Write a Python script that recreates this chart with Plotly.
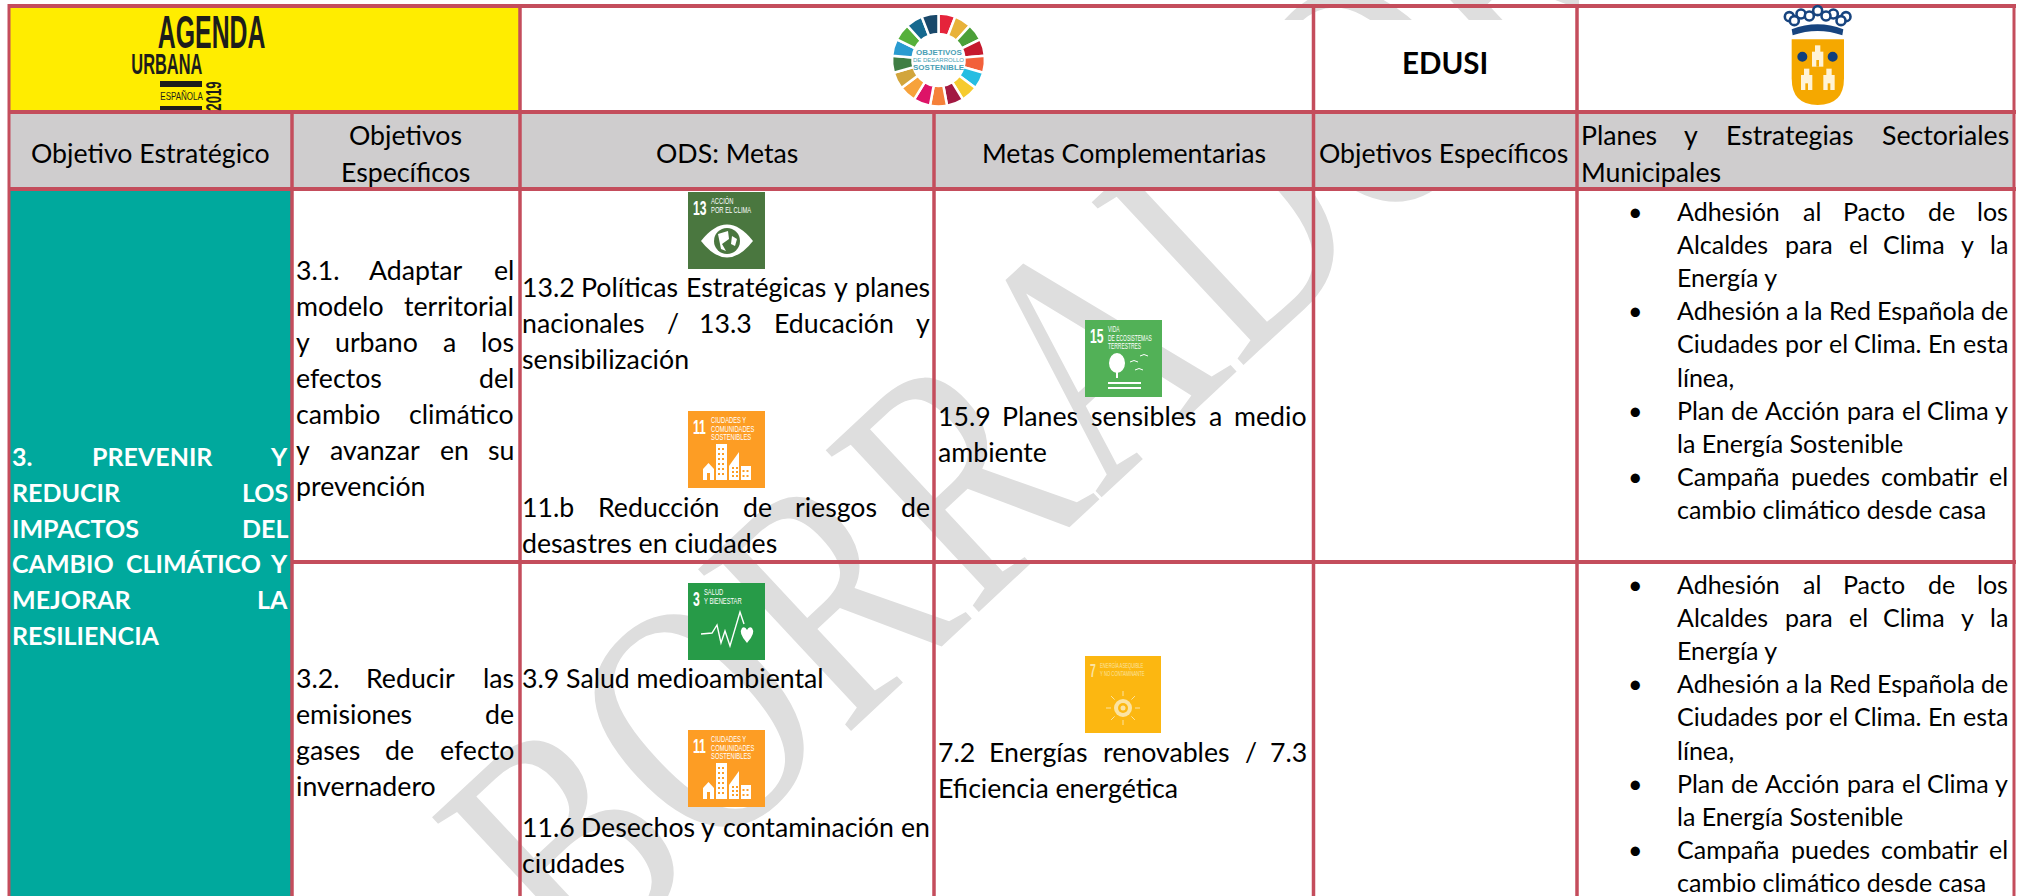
import json
import unicodedata
import plotly.graph_objects as go

# ---------- content ----------
HEADERS = ["Objetivo Estratégico", "ODS: Metas", "Metas Complementarias", "Objetivos Específicos"]
HEADER_OE = ["Objetivos", "Específicos"]
HEADER_PLANES = [["Planes y Estrategias Sectoriales", "Municipales"]]
EDUSI = "EDUSI"
WATERMARK = "BORRADOR"
OBJ_ESTRATEGICO = [["3. PREVENIR Y", "REDUCIR LOS", "IMPACTOS DEL", "CAMBIO CLIMÁTICO Y", "MEJORAR LA", "RESILIENCIA"]]
OE_31 = [["3.1. Adaptar el", "modelo territorial", "y urbano a los", "efectos del", "cambio climático", "y avanzar en su", "prevención"]]
OE_32 = [["3.2. Reducir las", "emisiones de", "gases de efecto", "invernadero"]]
ODS_132 = [["13.2 Políticas Estratégicas y planes", "nacionales / 13.3 Educación y", "sensibilización"]]
ODS_11B = [["11.b Reducción de riesgos de", "desastres en ciudades"]]
ODS_39 = [["3.9 Salud medioambiental"]]
ODS_116 = [["11.6 Desechos y contaminación en", "ciudades"]]
COMP_159 = [["15.9 Planes sensibles a medio", "ambiente"]]
COMP_72 = [["7.2 Energías renovables / 7.3", "Eficiencia energética"]]
PLANES = [
    ["Adhesión al Pacto de los", "Alcaldes para el Clima y la", "Energía y"],
    ["Adhesión a la Red Española de", "Ciudades por el Clima. En esta", "línea,"],
    ["Plan de Acción para el Clima y", "la Energía Sostenible"],
    ["Campaña puedes combatir el", "cambio climático desde casa"],
]
WHEEL_VALUES = [1] * 17
WHEEL_COLORS = ["#E5243B", "#E8B23A", "#4C9F38", "#C5192D", "#F2603A", "#26BDE2", "#F6CB2F", "#A21942", "#F5813A",
                "#DD1367", "#F7A23B", "#D2A53C", "#3F7E44", "#2A9BD0", "#56B03B", "#15698F", "#19486A"]
WHEEL_TEXT = ["OBJETIVOS", "DE DESARROLLO", "SOSTENIBLE"]

LINE = "#C44D5C"
TEAL = "#00A99D"
GRAY = "#CFCDCE"
YELLOW = "#FFED00"
FONT = "Lato"
NARROW = "Liberation Sans"
FS = 26.7
FS_LIST = 25

# approximate Lato advance widths, used only to space justified words
_W = dict(a=.509, b=.566, c=.473, d=.566, e=.527, f=.331, g=.511, h=.557, i=.243, j=.243, k=.514, l=.243, m=.825,
          n=.557, o=.574, p=.566, q=.566, r=.377, s=.432, t=.358, u=.557, v=.516, w=.786, x=.498, y=.516, z=.463,
          A=.68, B=.64, C=.65, D=.75, E=.56, F=.545, G=.715, H=.75, I=.27, J=.41, K=.65, L=.49, M=.92, N=.75, O=.8,
          P=.6, Q=.8, R=.62, S=.53, T=.58, U=.73, V=.68, W=1.02, X=.64, Y=.62, Z=.61)
_W.update({".": .21, ",": .21, "/": .4, ":": .24})


def tw(s, size, bold=False):
    t = 0
    for ch in unicodedata.normalize("NFD", s):
        if unicodedata.combining(ch):
            continue
        t += .58 if ch.isdigit() else _W.get(ch, .5)
    return t * size * (1.04 if bold else 1)


ann = []
shapes = []
squeeze = []


def text(x, y, s, size=FS, color="black", anchor="center", family=FONT, bold=False, angle=0, sx=None):
    if sx is not None:
        squeeze.append([len(ann), sx, anchor])
    ann.append(dict(x=x, y=y, text=f"<b>{s}</b>" if bold else s, showarrow=False, xanchor=anchor, yanchor="middle",
                    font=dict(family=family, size=size, color=color), textangle=angle, xref="x", yref="y",
                    borderpad=0, borderwidth=0))


def line_out(s, x0, x1, y, justify, size=FS, color="black", bold=False):
    words = s.split()
    if not justify or len(words) == 1:
        text(x0, y, s, size, color, "left", bold=bold)
        return
    ws = [tw(w, size, bold) for w in words]
    gap = (x1 - x0 - sum(ws)) / (len(words) - 1)
    pos = x0
    for i, (w, wd) in enumerate(zip(words, ws)):
        if i == 0:
            text(x0, y, w, size, color, "left", bold=bold)
        elif i == len(words) - 1:
            text(x1, y, w, size, color, "right", bold=bold)
        else:
            text(pos + wd / 2, y, w, size, color, "center", bold=bold)
        pos += wd + gap


def block(paras, x0, x1, y, step, size=FS, color="black", bold=False, bullet=None):
    for para in paras:
        if bullet is not None:
            text(bullet, y, "•", size, "black")
        for i, s in enumerate(para):
            line_out(s, x0, x1, y, i < len(para) - 1, size, color, bold)
            y += step


def rect(x0, y0, x1, y1, fill, layer="above"):
    shapes.append(dict(type="rect", x0=x0, y0=y0, x1=x1, y1=y1, fillcolor=fill, line_width=0, layer=layer,
                       xref="x", yref="y"))


def seg(x0, y0, x1, y1, w=4, color=LINE):
    shapes.append(dict(type="line", x0=x0, y0=y0, x1=x1, y1=y1, line=dict(color=color, width=w), layer="above",
                       xref="x", yref="y"))


def path(d, fill=None, stroke=None, w=1):
    shapes.append(dict(type="path", path=d, fillcolor=fill or "rgba(0,0,0,0)",
                       line=dict(color=stroke or "rgba(0,0,0,0)", width=w if stroke else 0),
                       layer="above", xref="x", yref="y"))


def circ(cx, cy, rx, ry, fill, stroke=None, w=1):
    shapes.append(dict(type="circle", x0=cx - rx, x1=cx + rx, y0=cy - ry, y1=cy + ry, fillcolor=fill,
                       line=dict(color=stroke or fill, width=w if stroke else 0), layer="above", xref="x", yref="y"))


# watermark first: moved beneath the cell fills after drawing
text(1032, 405, WATERMARK, 340, "#DEDEDE", family="Liberation Serif", angle=-43, sx=.77)

# fills
rect(9, 6, 520, 112, YELLOW)
rect(522, 20, 2014, 112, "white", "below")
rect(1579, 0, 2024, 112, "white", "below")
rect(9, 112, 2014, 189, GRAY)
rect(9, 189, 292, 896, TEAL)

# rules
seg(8, 6, 2016, 6)
seg(8, 112, 2016, 112)
seg(8, 189, 2016, 189)
seg(292, 562, 2016, 562)
seg(9, 4, 9, 896, 3)
seg(292, 112, 292, 896, 3.5)
seg(520, 4, 520, 896, 3.5)
seg(934, 112, 934, 896, 3.5)
seg(1313.5, 4, 1313.5, 896, 3.5)
seg(1577, 4, 1577, 896, 3.5)
seg(2014, 4, 2014, 896, 3)

# Agenda Urbana logo
INK = "#1D1D1B"
text(211, 31.5, "AGENDA", 46, INK, family=NARROW, bold=True, sx=.54)
text(166.5, 63.5, "URBANA", 29, INK, family=NARROW, bold=True, sx=.565)
rect(160, 81, 202, 87, INK)
rect(160, 106, 202, 110, INK)
text(181, 96, "ESPAÑOLA", 10, INK, family=NARROW, sx=.8)
text(214, 96.5, "2019", 22, INK, family=NARROW, bold=True, angle=-90, sx=.6)

# wheel caption
for i, s in enumerate(WHEEL_TEXT):
    text(938.5, 52 + i * 7.5, s, 8 if i != 1 else 6, "#4A9FB5", family=NARROW, bold=i != 1)

# EDUSI
text(1445, 62, EDUSI, 29.5, "black", family="Lato", bold=True)

# crest
X, Y = 1770, 0
def cx(v): return X + v / 3
def cy(v): return Y + v / 3
path(f"M{cx(65)},{cy(118)} L{cx(222)},{cy(118)} L{cx(222)},{cy(235)} Q{cx(222)},{cy(315)} {cx(143)},{cy(315)} "
     f"Q{cx(65)},{cy(315)} {cx(65)},{cy(235)} Z", "#F5A800")
for tx, ty, s in ((143, 168, 1.0), (110, 238, 1.0), (177, 238, 1.0)):
    rect(cx(tx - 17), cy(ty - 13), cx(tx + 17), cy(ty + 32), "#FFF3D6")
    rect(cx(tx - 8), cy(ty - 32), cx(tx + 8), cy(ty - 10), "#FFF3D6")
    rect(cx(tx - 4), cy(ty + 12), cx(tx + 4), cy(ty + 32), "#F5A800")
circ(cx(97), cy(170), 5, 5, "#0F3E7D")
circ(cx(188), cy(170), 5, 5, "#0F3E7D")
NAVY = "#17447F"
path(f"M{cx(65)},{cy(88)} Q{cx(143)},{cy(58)} {cx(220)},{cy(88)} L{cx(217)},{cy(106)} Q{cx(143)},{cy(80)} {cx(68)},{cy(106)} Z", NAVY)
for px_, py_ in ((58, 50), (93, 42), (143, 32), (190, 42), (228, 50), (73, 62), (118, 48), (168, 48), (213, 62)):
    circ(cx(px_), cy(py_), 4.5, 4.5, "white", NAVY, 2.6)


# SDG icons
def icon(x, y, color, num, title, tsize=8.5, tcolor="white", nsize=21, wid=77, hei=77, sx=.68):
    rect(x, y, x + wid, y + hei, color)
    text(x + 5, y + 15, num, nsize, tcolor, "left", NARROW, bold=True, sx=.58)
    off = 9 + .58 * tw(num, nsize)
    for i, t in enumerate(title):
        text(x + off, y + 9 + i * 8.5, t, tsize, tcolor, "left", NARROW, sx=sx)


def windows(x0, y0, cols, rows, dx, dy, color):
    for r in range(rows):
        for c in range(cols):
            rect(x0 + c * dx, y0 + r * dy, x0 + c * dx + 2, y0 + r * dy + 2, color)


# 13
x, y = 688, 192
icon(x, y, "#4A773F", "13", ["ACCIÓN", "POR EL CLIMA"])
path(f"M{x+13},{y+49} Q{x+39},{y+16} {x+65},{y+49} Q{x+39},{y+82} {x+13},{y+49} Z", "white")
circ(x + 39, y + 49, 13, 13, "#4A773F")
path(f"M{x+30},{y+42} L{x+40},{y+39} L{x+41},{y+47} L{x+34},{y+52} L{x+38},{y+59} L{x+33},{y+57} Z", "white")
path(f"M{x+44},{y+44} L{x+49},{y+47} L{x+47},{y+54} L{x+43},{y+52} Z", "white")


def eleven(x, y):
    O = "#FD9D24"
    icon(x, y, O, "11", ["CIUDADES Y", "COMUNIDADES", "SOSTENIBLES"])
    rect(x + 28, y + 33, x + 39, y + 69, "white")
    windows(x + 30, y + 37, 2, 6, 4, 5, O)
    path(f"M{x+15},{y+58} L{x+20.5},{y+52} L{x+26},{y+58} L{x+26},{y+69} L{x+15},{y+69} Z", "white")
    rect(x + 19, y + 62, x + 22, y + 69, O)
    path(f"M{x+41},{y+55} L{x+51},{y+41} L{x+51},{y+69} L{x+41},{y+69} Z", "white")
    windows(x + 44, y + 56, 2, 3, 4, 4, O)
    rect(x + 53, y + 55, x + 63, y + 69, "white")
    windows(x + 54.5, y + 59, 2, 2, 4, 5, O)


eleven(688, 411)
eleven(688, 730)

# 3
x, y = 688, 583
G3 = "#279B48"
icon(x, y, G3, "3", ["SALUD", "Y BIENESTAR"])
path(f"M{x+13},{y+51} L{x+24},{y+50} L{x+29},{y+42} L{x+33},{y+60} L{x+37},{y+48} L{x+42},{y+63} L{x+52},{y+29} L{x+56},{y+41}",
     None, "white", 1.4)
path(f"M{x+59},{y+60} Q{x+50},{y+50} {x+54},{y+45} Q{x+57},{y+43} {x+59},{y+47} Q{x+61},{y+43} {x+64},{y+45} Q{x+68},{y+50} {x+59},{y+60} Z", "white")

# 15
x, y = 1085, 320
icon(x, y, "#52B157", "15", ["VIDA", "DE ECOSISTEMAS", "TERRESTRES"], sx=.58)
circ(x + 32, y + 43, 8, 10, "white")
rect(x + 31, y + 50, x + 33, y + 58, "white")
for a, b in ((45, 42), (55, 36), (50, 50)):
    path(f"M{x+a},{y+b} Q{x+a+4},{y+b-3} {x+a+8},{y+b}", None, "white", 1)
rect(x + 23, y + 62, x + 56, y + 64, "white")
rect(x + 23, y + 67, x + 56, y + 69, "white")

# 7
x, y = 1085, 656
Y7 = "#FCB711"
P7 = "#FBE3A2"
icon(x, y, Y7, "7", ["ENERGÍA ASEQUIBLE", "Y NO CONTAMINANTE"], tsize=7, tcolor=P7, nsize=18, wid=76, sx=.6)
circ(x + 38, y + 52, 9, 9, P7)
circ(x + 38, y + 52, 5, 5, Y7)
circ(x + 38, y + 52, 2.5, 2.5, P7)
for dx, dy in ((0, -1), (0, 1), (1, 0), (-1, 0), (.7, .7), (-.7, .7), (.7, -.7), (-.7, -.7)):
    seg(x + 38 + dx * 12, y + 52 + dy * 12, x + 38 + dx * 17, y + 52 + dy * 17, 1, P7)

# headers
text(150, 153, HEADERS[0])
text(405, 135, HEADER_OE[0])
text(405, 172, HEADER_OE[1])
text(727, 153, HEADERS[1])
text(1124, 153, HEADERS[2])
text(1443, 153, HEADERS[3])
block(HEADER_PLANES, 1581, 2009, 135, 37)

# body
block(OBJ_ESTRATEGICO, 12, 288, 456, 35.8, 25, "white", True)
block(OE_31, 296, 514, 270, 36)
block(OE_32, 296, 514, 678, 36)
block(ODS_132, 522, 930, 287, 36)
block(ODS_11B, 522, 930, 507, 36)
block(ODS_39, 522, 930, 678, 36)
block(ODS_116, 522, 930, 827, 36)
block(COMP_159, 938, 1307, 416, 36)
block(COMP_72, 938, 1307, 752, 36)
block(PLANES, 1677, 2008, 211, 33.1, FS_LIST, bullet=1635)
block(PLANES, 1677, 2008, 584, 33.1, FS_LIST, bullet=1635)

fig = go.Figure()
fig.add_trace(go.Scatter(x=[], y=[], mode="none", hoverinfo="skip", showlegend=False))
fig.add_trace(go.Pie(values=WHEEL_VALUES, marker=dict(colors=WHEEL_COLORS, line=dict(color="white", width=2.5)),
                     sort=False, direction="clockwise", rotation=0, hole=0.56, textinfo="none", hoverinfo="skip",
                     showlegend=False, domain=dict(x=[892 / 2024, 985 / 2024], y=[1 - 107 / 896, 1 - 13 / 896])))
fig.update_layout(width=2024, height=896, autosize=False, margin=dict(l=0, r=0, t=0, b=0), paper_bgcolor="white",
                  plot_bgcolor="rgba(0,0,0,0)", showlegend=False,
                  xaxis=dict(range=[0, 2024], visible=False, fixedrange=True),
                  yaxis=dict(range=[896, 0], visible=False, fixedrange=True),
                  shapes=shapes, annotations=ann)
POST = """
document.body.style.margin='0';document.documentElement.style.overflow='hidden';
var gd=document.getElementById('{plot_id}');
JSON_SQUEEZE.forEach(function(e){
  var t=gd.querySelector('.annotation[data-index="'+e[0]+'"] text');
  if(!t)return;
  var b=t.getBBox();
  var c=e[2]==='left'?b.x:b.x+b.width/2;
  t.setAttribute('transform','translate('+c+',0) scale('+e[1]+',1) translate('+(-c)+',0)');
});
var wm=gd.querySelector('.annotation[data-index="0"]');
var lb=gd.querySelector('.layer-below');
if(wm&&lb){lb.parentNode.insertBefore(wm,lb);}
""".replace("JSON_SQUEEZE", json.dumps(squeeze))
fig.write_html("out.html", config=dict(displayModeBar=False, staticPlot=True), post_script=POST)
